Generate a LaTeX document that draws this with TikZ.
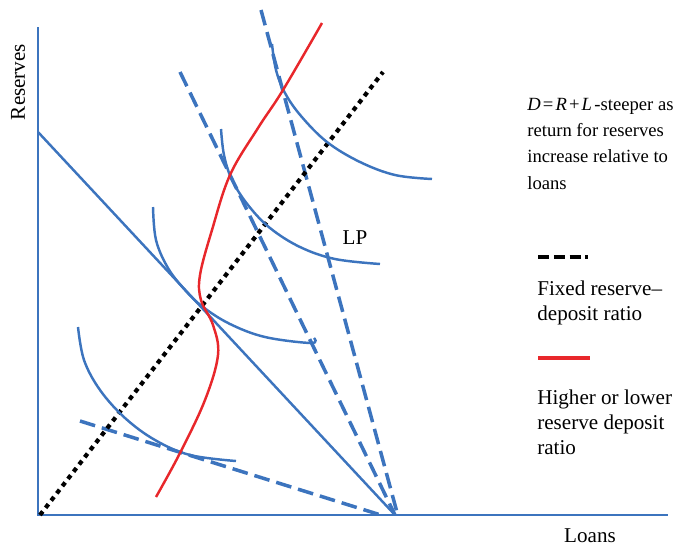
\documentclass[tikz,border=0pt]{standalone}
\usepackage{fontspec}
\setmainfont{Liberation Serif}
\usepackage{tikz}
\usetikzlibrary{positioning}
\definecolor{axblue}{HTML}{3C74BE}
\definecolor{curvered}{HTML}{E8272B}

\begin{document}
\begin{tikzpicture}[x=0.02cm,y=-0.02cm,
  font=\fontsize{12}{14.2}\selectfont,
  ax/.style={draw=axblue,line width=1.6pt},
  budget/.style={draw=axblue,line width=1.4pt},
  dsh/.style={draw=axblue,line width=2pt,dash pattern=on 9pt off 4pt},
  dotln/.style={draw=black,line width=2.4pt,dash pattern=on 2.6pt off 2.6pt},
  icurve/.style={draw=axblue,line width=1.4pt},
  redln/.style={draw=curvered,line width=1.4pt},
  txt/.style={align=left,anchor=north west,inner sep=0pt},
]
\useasboundingbox (0,0) rectangle (675,545);

% axes
\coordinate (origin) at (40,515);
\coordinate (ytop) at (38,27);
\coordinate (xend) at (668,515);
\coordinate (pivot) at (395,515);
\draw[ax] (ytop) -- (38,515) -- (xend);
\node[rotate=90] (ylab) at (18,82) {Reserves};
\node (xlab) at (590,536) {Loans};

% budget lines, all through the pivot
\coordinate (rmax) at (38,132);
\coordinate (dA) at (80,421);
\coordinate (dB) at (180,72);
\coordinate (dC) at (261,10);
\draw[budget] (rmax) -- (pivot);
\draw[dsh] (dA) -- (384,516);
\draw[dsh] (dB) -- (pivot);
\draw[dsh] (dC) -- (398,516);

% fixed ratio ray
\coordinate (rayend) at (383,72);
\draw[dotln] (origin) -- (rayend);

% indifference curves
\draw[icurve] plot[smooth,tension=0.6] coordinates {(272,44) (276,70) (285,93) (301,116) (327,142) (360,162) (395,175) (432,179)};
\draw[icurve] plot[smooth,tension=0.6] coordinates {(221,129) (224,155) (232,180) (248,205) (270,228) (300,247) (335,259) (380,264)};
\draw[icurve] plot[smooth,tension=0.6] coordinates {(153,207) (156,240) (168,268) (185,290) (203,307) (230,324) (265,337) (311,343) (314,338)};
\draw[icurve] plot[smooth,tension=0.6] coordinates {(78,327) (84,360) (100,390) (125,418) (155,440) (190,455) (236,461)};

% red locus
\draw[redln] plot[smooth,tension=0.6] coordinates {(156,497) (180,453) (205,400) (218,355) (213,325) (201,300) (200,275) (212,230) (230,175) (258,128) (283,90) (322,23)};

\node (lp) at (355,238) {LP};

% note and legend
\node[txt,font=\fontsize{10.6}{14.9}\selectfont] (note) at (527,98) {\textit{D}\kern1.2pt=\kern1.2pt\textit{R}\kern1.2pt+\kern1.2pt\textit{L}\kern1.4pt-steeper as\\return for reserves\\increase relative to\\loans};
\coordinate (k1) at (538,257);
\coordinate (k2) at (588,257);
\draw[line width=2.6pt,dash pattern=on 6.5pt off 2.5pt] (k1) -- (k2);
\node[txt] (fixlab) at (537,281) {Fixed reserve–\\deposit ratio};
\coordinate (r1) at (538,358);
\coordinate (r2) at (590,358);
\draw[draw=curvered,line width=2.4pt] (r1) -- (r2);
\node[txt] (varlab) at (537,390) {Higher or lower\\reserve deposit\\ratio};
\end{tikzpicture}
\end{document}
